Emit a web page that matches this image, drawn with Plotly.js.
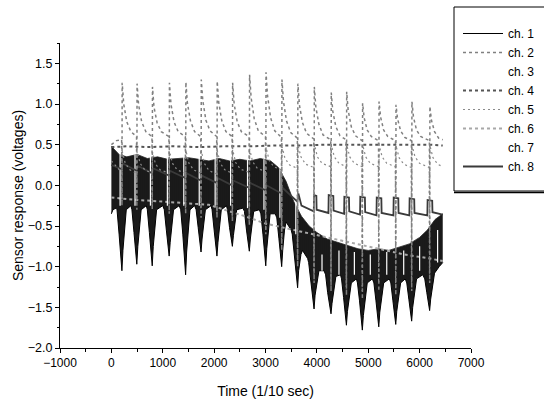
<!DOCTYPE html>
<html><head><meta charset="utf-8">
<script src="https://cdn.plot.ly/plotly-3.0.1.min.js"></script>
<style>html,body{margin:0;padding:0;background:#fff;} #chart{width:544px;height:399px;}</style>
</head><body><div id="chart"></div>
<script>
// ch.1 : dense black response, lower edge (with the downward spikes) and upper edge
var ch1LowX = [0,30,90,
 110,150,185,205,225,260,290,380,
 400,440,475,495,515,550,580,680,
 700,740,775,795,815,850,880,1000,
 1030,1070,1105,1125,1145,1180,1210,1320,
 1350,1390,1425,1445,1465,1500,1530,1620,
 1650,1690,1725,1745,1765,1800,1830,1940,
 1960,2000,2035,2055,2075,2110,2140,2240,
 2260,2300,2335,2355,2375,2410,2440,2560,
 2590,2630,2665,2685,2705,2740,2770,2880,
 2910,2950,2985,3005,3025,3060,3090,3190,
 3220,3260,3295,3315,3335,3370,3400,3500,
 3520,3560,3600,3625,3645,3690,3720,3820,
 3840,3880,3920,3945,3965,4010,4040,4140,
 4170,4210,4250,4275,4295,4340,4370,4460,
 4480,4520,4555,4575,4595,4640,4670,4770,
 4790,4830,4865,4885,4905,4950,4980,5080,
 5110,5150,5185,5205,5225,5270,5300,5410,
 5440,5480,5515,5535,5555,5600,5630,5720,
 5750,5790,5825,5845,5865,5910,5940,6060,
 6100,6140,6175,6195,6215,6260,6290,6380,6450];
var ch1LowY = [-0.35,-0.3,-0.28,
 -0.3,-0.6,-0.85,-1.05,-0.8,-0.5,-0.3,-0.25,
 -0.3,-0.58,-0.8,-0.97,-0.75,-0.48,-0.3,-0.25,
 -0.3,-0.58,-0.8,-0.99,-0.75,-0.48,-0.3,-0.25,
 -0.3,-0.55,-0.74,-0.87,-0.7,-0.45,-0.3,-0.25,
 -0.3,-0.6,-0.88,-1.10,-0.82,-0.5,-0.3,-0.25,
 -0.3,-0.52,-0.7,-0.82,-0.66,-0.45,-0.3,-0.25,
 -0.3,-0.55,-0.74,-0.87,-0.7,-0.45,-0.3,-0.25,
 -0.3,-0.52,-0.66,-0.75,-0.62,-0.42,-0.3,-0.28,
 -0.32,-0.55,-0.7,-0.81,-0.66,-0.45,-0.32,-0.3,
 -0.35,-0.6,-0.83,-0.99,-0.78,-0.5,-0.35,-0.35,
 -0.4,-0.65,-0.85,-1.0,-0.8,-0.55,-0.45,-0.55,
 -0.6,-0.85,-1.08,-1.26,-1.05,-0.85,-0.8,-0.9,
 -0.95,-1.2,-1.38,-1.52,-1.35,-1.15,-1.05,-1.05,
 -1.1,-1.32,-1.47,-1.58,-1.45,-1.25,-1.12,-1.1,
 -1.15,-1.38,-1.57,-1.72,-1.55,-1.35,-1.2,-1.15,
 -1.2,-1.42,-1.62,-1.78,-1.6,-1.38,-1.2,-1.15,
 -1.2,-1.42,-1.6,-1.74,-1.56,-1.36,-1.2,-1.15,
 -1.2,-1.42,-1.57,-1.71,-1.55,-1.35,-1.2,-1.15,
 -1.2,-1.4,-1.55,-1.67,-1.5,-1.3,-1.15,-1.1,
 -1.15,-1.32,-1.44,-1.54,-1.4,-1.2,-1.08,-1.0,-0.95];
var ch1HighX = [0,40,150,300,500,700,900,1100,1300,1500,1700,1900,2100,2300,2500,2700,2900,3100,3250,3400,3550,3700,3850,4000,4200,4400,4600,4800,5000,5200,5400,5600,5800,6000,6150,6300,6450];
var ch1HighY = [0.48,0.45,0.38,0.35,0.38,0.33,0.35,0.32,0.33,0.34,0.32,0.3,0.33,0.3,0.32,0.3,0.33,0.3,0.22,0.05,-0.2,-0.38,-0.5,-0.58,-0.66,-0.7,-0.74,-0.78,-0.8,-0.78,-0.8,-0.76,-0.72,-0.64,-0.55,-0.42,-0.35];

// ch.2 : large periodic peaks
var ch2X = [0,100,200,206,210,240,300,380,
 490,496,500,530,590,670,
 790,796,800,830,890,970,
 1120,1126,1130,1160,1220,1300,
 1440,1446,1450,1480,1540,1620,
 1740,1746,1750,1780,1840,1920,
 2050,2056,2060,2090,2150,2230,
 2350,2356,2360,2390,2450,2530,
 2680,2686,2690,2720,2780,2860,
 3000,3006,3010,3040,3100,3180,
 3310,3316,3320,3350,3410,3490,
 3620,3626,3630,3660,3720,3800,
 3940,3946,3950,3980,4040,4120,
 4270,4276,4280,4310,4370,4450,
 4570,4576,4580,4610,4670,4750,
 4880,4886,4890,4920,4980,5060,
 5200,5206,5210,5240,5300,5380,
 5530,5536,5540,5570,5630,5710,
 5840,5846,5850,5880,5940,6020,
 6190,6196,6200,6230,6290,6370,6450];
var ch2Y = [0.5,0.55,0.56,-0.25,1.26,1.0,0.78,0.66,
 0.6,-0.3,1.25,0.99,0.78,0.66,
 0.6,-0.3,1.21,0.96,0.77,0.66,
 0.6,-0.35,1.26,1.0,0.78,0.66,
 0.6,-0.35,1.27,1.01,0.79,0.66,
 0.6,-0.4,1.30,1.04,0.8,0.67,
 0.6,-0.4,1.28,1.02,0.79,0.66,
 0.6,-0.45,1.26,1.0,0.78,0.66,
 0.6,-0.5,1.36,1.08,0.82,0.67,
 0.6,-0.6,1.39,1.1,0.83,0.67,
 0.59,-0.8,1.30,1.03,0.79,0.65,
 0.58,-1.0,1.25,0.99,0.77,0.64,
 0.57,-1.2,1.21,0.96,0.75,0.62,
 0.56,-1.3,1.14,0.91,0.72,0.61,
 0.56,-1.35,1.15,0.92,0.72,0.61,
 0.55,-1.4,1.01,0.83,0.68,0.6,
 0.55,-1.3,1.03,0.84,0.68,0.6,
 0.55,-1.35,0.99,0.82,0.67,0.59,
 0.55,-1.3,1.03,0.84,0.68,0.6,
 0.55,-1.2,0.97,0.8,0.66,0.58,0.56];

// ch.3 : light streaks through the dense band (early part)
var ch3X = [170,170,null,460,460,null,760,760,null,1090,1090,null,1410,1410,null,1710,1710,null,2020,2020,null,2320,2320,null,2650,2650,null,2970,2970,null,3280,3280,null,3590,3590];
var ch3Y = [0.42,-0.25,null,0.38,-0.25,null,0.36,-0.25,null,0.35,-0.25,null,0.35,-0.25,null,0.34,-0.25,null,0.33,-0.25,null,0.33,-0.25,null,0.32,-0.28,null,0.32,-0.3,null,0.2,-0.4,null,-0.05,-0.6];

// ch.4 : nearly flat baseline
var ch4X = [0,300,700,1200,1700,2200,2700,3200,3700,4200,4700,5200,5700,6200,6450];
var ch4Y = [0.47,0.48,0.47,0.48,0.47,0.48,0.48,0.49,0.49,0.5,0.5,0.5,0.5,0.5,0.49];

// ch.5 : smaller peaks
var ch5X = [0,150,198,202,210,270,360,
 488,492,500,560,650,
 788,792,800,860,950,
 1118,1122,1130,1190,1280,
 1438,1442,1450,1510,1600,
 1738,1742,1750,1810,1900,
 2048,2052,2060,2120,2210,
 2348,2352,2360,2420,2510,
 2678,2682,2690,2750,2840,
 2998,3002,3010,3070,3160,
 3308,3312,3320,3380,3470,
 3618,3622,3630,3690,3780,
 3938,3942,3950,4010,4100,
 4268,4272,4280,4340,4430,
 4568,4572,4580,4640,4730,
 4878,4882,4890,4950,5040,
 5198,5202,5210,5270,5360,
 5528,5532,5540,5600,5690,
 5838,5842,5850,5910,6000,
 6188,6192,6200,6260,6350,6450];
var ch5Y = [0.3,0.2,0.16,-0.2,0.42,0.27,0.19,
 0.15,-0.2,0.42,0.27,0.19,
 0.15,-0.25,0.41,0.26,0.19,
 0.15,-0.25,0.42,0.27,0.19,
 0.15,-0.3,0.43,0.27,0.19,
 0.15,-0.3,0.42,0.27,0.18,
 0.14,-0.35,0.43,0.27,0.19,
 0.15,-0.4,0.44,0.28,0.2,
 0.16,-0.45,0.45,0.29,0.21,
 0.17,-0.55,0.47,0.31,0.23,
 0.19,-0.7,0.48,0.33,0.25,
 0.21,-0.9,0.5,0.35,0.26,
 0.22,-1.1,0.51,0.35,0.27,
 0.23,-1.2,0.5,0.35,0.27,
 0.23,-1.25,0.5,0.35,0.27,
 0.23,-1.3,0.5,0.35,0.27,
 0.23,-1.2,0.5,0.35,0.27,
 0.23,-1.25,0.49,0.34,0.26,
 0.22,-1.2,0.5,0.35,0.27,
 0.22,-1.1,0.49,0.34,0.26,0.23];

// ch.6 : slow downward drift
var ch6X = [0,500,1000,1500,1900,2200,2600,3000,3400,3700,4200,4700,5200,5700,6200,6450];
var ch6Y = [-0.15,-0.18,-0.2,-0.22,-0.24,-0.3,-0.38,-0.47,-0.53,-0.57,-0.64,-0.71,-0.78,-0.85,-0.9,-0.93];

// ch.7 : light streaks through the dense band (late part)
var ch7X = [4100,4100,null,4430,4430,null,4730,4730,null,5040,5040,null,5360,5360,null,5690,5690,null,6000,6000,null,6350,6350];
var ch7Y = [-0.85,-1.05,null,-0.8,-1.1,null,-0.82,-1.1,null,-0.85,-1.1,null,-0.82,-1.1,null,-0.8,-1.1,null,-0.75,-1.05,null,-0.55,-0.95];

// ch.8 : sawtooth then square steps
var ch8X = [0,200,220,490,510,790,810,1120,1140,1440,1460,1740,1760,2050,2070,2350,2370,2680,2700,3000,3020,3310,3330,3620,3640,3700,3940,
 3945,3990,3995,4225,4230,4320,4325,4530,4535,4625,4630,4840,4845,4935,4940,5160,5165,5255,5260,5490,5495,5585,5590,5800,5805,5895,5900,6150,6155,6245,6250,6450];
var ch8Y = [0.25,0.2,0.27,0.18,0.24,0.15,0.21,0.12,0.18,0.09,0.15,0.06,0.12,0.03,0.09,0.0,0.06,-0.03,0.03,-0.06,0.0,-0.1,-0.03,-0.2,-0.1,-0.25,-0.32,
 -0.12,-0.13,-0.3,-0.34,-0.12,-0.13,-0.31,-0.35,-0.14,-0.15,-0.32,-0.36,-0.14,-0.15,-0.33,-0.37,-0.15,-0.16,-0.34,-0.37,-0.15,-0.16,-0.34,-0.37,-0.16,-0.17,-0.34,-0.37,-0.18,-0.19,-0.33,-0.36];

var FONT = 'Liberation Sans, Arial, sans-serif';

var traces = [
 {x: ch1LowX, y: ch1LowY, name: 'ch. 1', mode: 'lines', line: {color: '#000', width: 1}, legendrank: 1},
 {x: ch1HighX, y: ch1HighY, name: 'ch. 1 top', mode: 'lines', fill: 'tonexty', fillcolor: '#000',
  fillpattern: {shape: '|', size: 2, solidity: 0.9, fgcolor: '#000', bgcolor: '#fff', fgopacity: 1},
  line: {color: '#222', width: 0.8}, showlegend: false},
 {x: ch6X, y: ch6Y, name: 'ch. 6', mode: 'lines', line: {color: '#a8a8a8', width: 2, dash: 'dot'}, legendrank: 6},
 {x: ch3X, y: ch3Y, name: 'ch. 3', mode: 'lines', connectgaps: false, line: {color: '#ffffff', width: 1.2}, legendrank: 3},
 {x: ch7X, y: ch7Y, name: 'ch. 7', mode: 'lines', connectgaps: false, line: {color: '#ffffff', width: 1.2}, legendrank: 7},
 {x: ch8X, y: ch8Y, name: 'ch. 8', mode: 'lines', line: {color: '#3a3a3a', width: 1.8}, legendrank: 8},
 {x: ch4X, y: ch4Y, name: 'ch. 4', mode: 'lines', line: {color: '#555555', width: 2, dash: 'dot'}, legendrank: 4},
 {x: ch5X, y: ch5Y, name: 'ch. 5', mode: 'lines', line: {color: '#8a8a8a', width: 1.2, dash: '2px,3px'}, legendrank: 5},
 {x: ch2X, y: ch2Y, name: 'ch. 2', mode: 'lines', line: {color: '#808080', width: 1.5, dash: 'dot'}, legendrank: 2}
];

var px2x = function(px){ return (px - 60) / 411; };
var py2y = function(py){ return (348 - py) / 305; };

var layout = {
 width: 544, height: 399,
 margin: {l: 60, r: 73, t: 43, b: 51, autoexpand: false},
 paper_bgcolor: '#fff', plot_bgcolor: '#fff',
 font: {family: FONT, color: '#000', size: 12},
 showlegend: true,
 legend: {x: px2x(458), y: py2y(19), xanchor: 'left', yanchor: 'top', bgcolor: 'rgba(0,0,0,0)', borderwidth: 0,
          traceorder: 'normal', font: {family: FONT, size: 12, color: '#000'}, itemwidth: 40, tracegroupgap: 0},
 xaxis: {range: [-1000, 7000], dtick: 1000, tick0: 0, showgrid: false, zeroline: false,
         showline: true, linecolor: '#000', linewidth: 1, ticks: 'outside', ticklen: 4, tickcolor: '#000',
         minor: {ticks: 'outside', ticklen: 2.5, dtick: 500, tickcolor: '#000'},
         tickfont: {size: 12}, title: {text: 'Time (1/10 sec)', font: {size: 14}, standoff: 16}},
 yaxis: {range: [-2, 1.75], dtick: 0.5, tick0: 0, tickformat: '.1f', showgrid: false, zeroline: false,
         showline: true, linecolor: '#000', linewidth: 1, ticks: 'outside', ticklen: 4, tickcolor: '#000',
         minor: {ticks: 'outside', ticklen: 2.5, dtick: 0.25, tickcolor: '#000'},
         tickfont: {size: 12.5}, title: {text: 'Sensor response (voltages)', font: {size: 14}, standoff: 0}},
 shapes: [
  {type: 'rect', xref: 'paper', yref: 'paper', x0: px2x(454), x1: px2x(600), y0: py2y(191), y1: py2y(7), line: {color: '#000', width: 1}, fillcolor: 'rgba(0,0,0,0)'},
  {type: 'line', xref: 'paper', yref: 'paper', x0: px2x(454), x1: px2x(600), y0: py2y(192.5), y1: py2y(192.5), line: {color: '#000', width: 1.5}}
 ]
};

Plotly.newPlot('chart', traces, layout, {staticPlot: true, displayModeBar: false});
</script></body></html>
